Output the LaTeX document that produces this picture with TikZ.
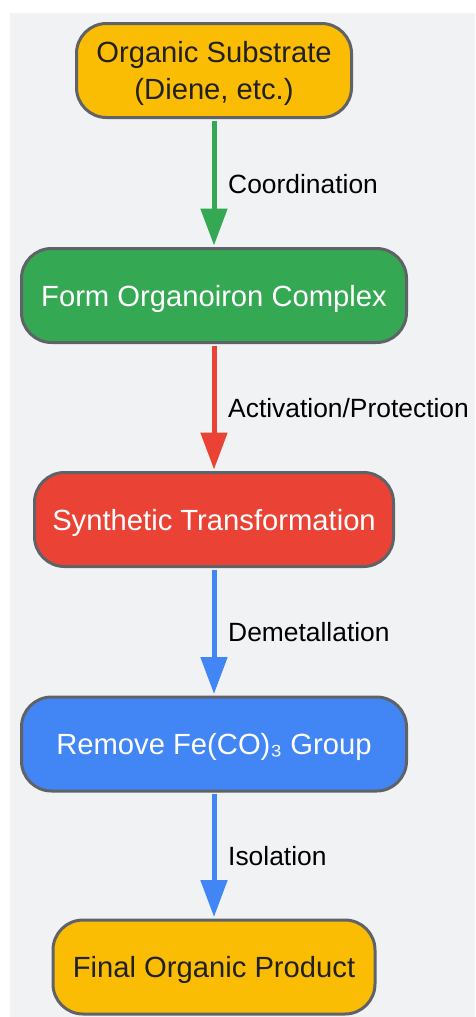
\documentclass[tikz,border=0pt]{standalone}
\usepackage{fontspec}
\setmainfont{Liberation Sans}
\usetikzlibrary{arrows.meta}
\definecolor{bgc}{HTML}{F1F2F4}
\definecolor{bordc}{HTML}{5F6368}
\definecolor{gyellow}{HTML}{FBBC04}
\definecolor{ggreen}{HTML}{34A853}
\definecolor{gred}{HTML}{EA4335}
\definecolor{gblue}{HTML}{4285F4}
\definecolor{darktext}{HTML}{202124}
\tikzset{
  box/.style={draw=bordc, line width=3pt, rounded corners=30pt, minimum height=94pt,
    inner sep=0pt, align=center, text depth=0pt, font=\fontsize{29.2}{36.5}\selectfont},
  conn/.style={line width=5pt, -{Triangle[length=37pt,width=26pt]}, shorten >=1.5pt, shorten <=1.5pt},
  elabel/.style={anchor=west, inner sep=0pt, font=\fontsize{26.4}{30}\selectfont, text=black}
}
\begin{document}
\begin{tikzpicture}[x=1pt,y=-1pt]
\useasboundingbox (0,0) rectangle (475,1017);
\fill[bgc] (10,13) rectangle (475,1017);
\node[box, fill=gyellow, text=darktext, minimum width=275pt] (n1) at (214,70.5) {Organic Substrate\\(Diene, etc.)};
\node[box, fill=ggreen, text=white, minimum width=385pt] (n2) at (214,295.5) {Form Organoiron Complex};
\node[box, fill=gred, text=white, minimum width=359pt] (n3) at (214,519.5) {Synthetic Transformation};
\node[box, fill=gblue, text=white, minimum width=385pt] (n4) at (214,744) {Remove Fe(CO)₃ Group};
\node[box, fill=gyellow, text=darktext, minimum width=322pt] (n5) at (214,967) {Final Organic Product};
\draw[conn, ggreen] (n1) -- (n2);
\draw[conn, gred] (n2) -- (n3);
\draw[conn, gblue] (n3) -- (n4);
\draw[conn, gblue] (n4) -- (n5);
\node[elabel] (l1) at (228,184) {Coordination};
\node[elabel] (l2) at (228,408) {Activation/Protection};
\node[elabel] (l3) at (228,632) {Demetallation};
\node[elabel] (l4) at (228,856) {Isolation};
\end{tikzpicture}
\end{document}
